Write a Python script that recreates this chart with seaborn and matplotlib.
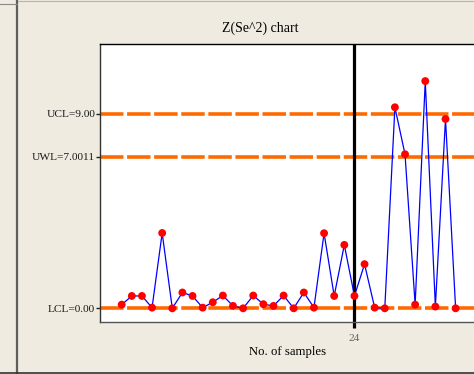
import matplotlib
matplotlib.use("Agg")
import matplotlib.pyplot as plt
from matplotlib.lines import Line2D
import seaborn as sns
import pandas as pd

# ---- data ----
samples = list(range(1, 35))
values = [0.17, 0.57, 0.57, 0.03, 3.48, 0.0, 0.73, 0.57, 0.03, 0.28,
          0.59, 0.11, 0.0, 0.59, 0.19, 0.11, 0.59, 0.0, 0.73, 0.03,
          3.47, 0.57, 2.93, 0.57, 2.04, 0.03, 0.0, 9.29, 7.12, 0.17,
          10.50, 0.08, 8.75, 0.0]
limit_values = [0.0, 7.0011, 9.0]
limit_labels = ["LCL=0.00", "UWL=7.0011", "UCL=9.00"]
split_sample = 24
title = "Z(Se^2) chart"
xlabel = "No. of samples"

df = pd.DataFrame({"sample": samples, "value": values})

W, H = 474, 374
BG = "#EFEBE1"
plt.rcParams["font.family"] = ["Liberation Serif", "DejaVu Serif"]

fig = plt.figure(figsize=(W / 100, H / 100), dpi=100, facecolor=BG)

def px(x0, y0, x1, y1):
    return [x0 / W, 1 - y1 / H, (x1 - x0) / W, (y1 - y0) / H]

ax = fig.add_axes(px(100, 44.3, 480, 321.5))
ax.set_facecolor("white")

# control limit lines
for v in limit_values:
    ax.axhline(v, color="#FF6A00", lw=2.6, dashes=(6.5, 1.0), zorder=1)

# split line
ax.axvline(split_sample, color="black", lw=2.3, zorder=2)

sns.lineplot(data=df, x="sample", y="value", ax=ax, color="#0000FF",
             lw=0.9, zorder=3, legend=False)
sns.scatterplot(data=df, x="sample", y="value", ax=ax, color="#FF0000",
                s=32, edgecolor="none", zorder=4, legend=False)

ax.set_xlim(-1.144, 36.41)
ax.set_ylim(-0.61, 12.2)

ax.set_yticks(limit_values)
ax.set_yticklabels(limit_labels)
ax.set_xticks([split_sample])
ax.set_xticklabels([str(split_sample)])
ax.tick_params(axis="y", length=3, width=1, color="#222222", pad=0.5,
               labelsize=8.2, labelcolor="#1A1A1A")
ax.tick_params(axis="x", length=4, width=2.3, color="black", pad=5,
               labelsize=8.2, labelcolor="#666666")
ax.set_xlabel("")
ax.set_ylabel("")

ax.spines["right"].set_visible(False)
ax.spines["top"].set_color("black")
ax.spines["left"].set_color("#333333")
ax.spines["bottom"].set_color("#555555")
for s in ax.spines.values():
    s.set_linewidth(1)

fig.text(260 / W, 1 - 28 / H, title, ha="center", va="center",
         fontsize=10, color="black")
fig.text(287.5 / W, 1 - 352 / H, xlabel, ha="center", va="center",
         fontsize=9.2, color="black")

# panel decoration lines
def fline(x0, y0, x1, y1, color, lw):
    fig.add_artist(Line2D([x0 / W, x1 / W], [1 - y0 / H, 1 - y1 / H],
                          transform=fig.transFigure, color=color, lw=lw))

fline(17, 0, 17, H, "#5E5E5E", 1.6)
fline(0, 4, 17, 4, "#8A8A8A", 0.8)
fline(18, 0.5, W, 0.5, "#B8B4AA", 0.8)
fline(0, 373, W, 373, "#333333", 1.2)

fig.savefig("out.png", dpi=100, facecolor=BG)
